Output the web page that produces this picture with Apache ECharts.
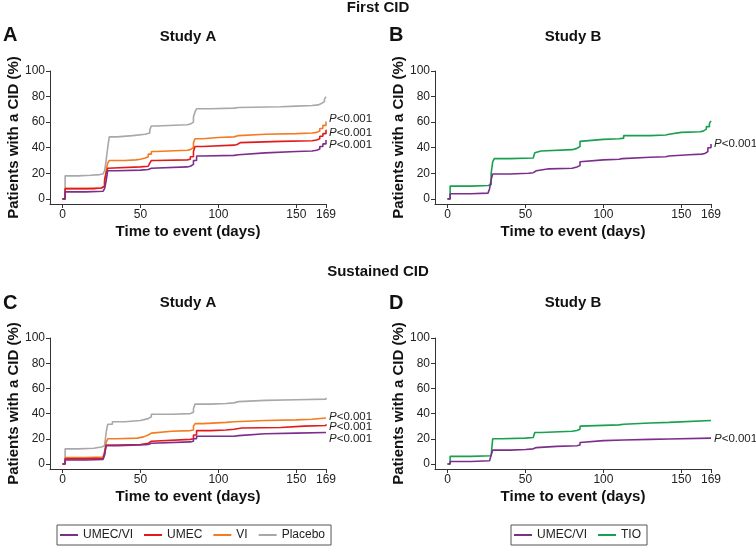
<!DOCTYPE html>
<html><head><meta charset="utf-8">
<script src="https://cdn.jsdelivr.net/npm/echarts@6/dist/echarts.min.js"></script>
<style>html,body{margin:0;padding:0;background:#fff}#c{width:756px;height:549px}</style>
</head><body><div id="c"></div>
<script>
// ---- data (day, % with CID) ----
const xTicks = [0, 50, 100, 150, 169];
const yTicks = [0, 20, 40, 60, 80, 100];
const legendA = ['UMEC/VI', 'UMEC', 'VI', 'Placebo'];
const legendB = ['UMEC/VI', 'TIO'];
const pLabel = 'P<0.001';

// Panel A: First CID, Study A
const A_placebo = [[0,0],[1.7,18],[10,18.5],[18,19],[24,19.5],[26,20],[27,22],[28,30],[29,40],[30,48.5],[35,49.5],[45,50.5],[53,51.5],[56,54],[57,57],[60,58],[80,58.5],[82,60],[84,64],[85,68],[86,70.5],[95,71],[110,71.5],[113,72],[140,72.5],[150,73],[160,73.5],[164,74.5],[166,76],[168,78],[169,80]];
const A_vi = [[0,0],[1.7,8],[15,8.5],[25,9],[26,10],[27,13],[28,22],[29,28],[30,30],[40,30.5],[47,31],[50,32],[53,33],[55,35],[57,37],[60,38],[80,38.5],[82,40],[84,44],[85,47],[90,48],[100,48.5],[110,49.5],[113,50.5],[130,51],[150,51.5],[160,52],[163,53],[165,55],[167,57.5],[169,60.5]];
const A_umec = [[0,0],[1.7,8],[20,8.5],[25,9],[26,10],[27,15],[28,20],[29,24],[30,25],[50,25.5],[55,26],[56,28],[57,30],[60,30.5],[80,31],[82,33],[84,37],[85,41],[90,42],[110,42.5],[112,44],[114,45],[140,45.5],[160,46],[163,47],[165,49],[167,51],[169,54]];
const A_umecvi = [[0,0],[1.7,5.5],[15,6],[26,6.5],[27,8],[28,14],[29,22],[35,22.5],[50,23],[55,24],[57,25],[80,25.5],[82,27],[84,30],[86,33.5],[90,34],[110,34.5],[113,36],[130,37],[150,37.5],[160,38],[163,39],[165,41],[167,43],[169,46]];

// Panel B: First CID, Study B
const B_tio = [[0,0],[1.7,10],[15,10.5],[26,11],[28,20],[29,29],[30,31.5],[40,32],[55,32.5],[56,36],[57,37.5],[60,38.5],[80,39.5],[83,41],[85,45],[86,46.5],[100,47],[110,47.5],[113,49.5],[130,50],[140,50.5],[142,52],[150,52.5],[162,53],[164,54.5],[166,56.5],[168,59],[169,61]];
const B_umecvi = [[0,0],[1.7,4],[15,4.5],[26,5.5],[27,8],[28,15],[29,19.5],[40,20],[52,20.5],[55,22],[57,23.5],[65,24],[80,25],[83,26],[85,29],[86,30.5],[100,31],[110,31.5],[112,32.5],[130,33],[140,33.5],[142,34.5],[155,35],[163,35.5],[165,37],[167,40],[169,43]];

// Panel C: Sustained CID, Study A
const C_placebo = [[0,0],[1.7,12],[10,12.5],[20,13.5],[25,14.5],[27,16],[28,25],[29,31.5],[32,33.5],[40,34.5],[50,36],[55,37.5],[57,39.5],[70,40],[82,41],[84,44],[85,47.5],[95,48],[105,48.5],[110,49.5],[113,50.5],[130,51],[150,51.5],[169,52.5]];
const C_vi = [[0,0],[1.7,5],[15,5.5],[26,6],[27,10],[28,17],[29,20],[35,20.5],[48,21.5],[52,23],[55,24.5],[57,26],[70,26.5],[82,27],[84,30],[85,32],[90,33],[105,33.5],[110,34.5],[130,35],[150,35.5],[160,36.5],[169,37]];
const C_umec = [[0,0],[1.7,4],[15,4.5],[26,5],[27,8],[28,15],[35,15.5],[50,16.5],[55,18],[57,19.5],[82,20],[84,23],[86,26.5],[95,27],[105,27.5],[110,28.5],[115,29],[140,30],[155,30.5],[169,31.5]];
const C_umecvi = [[0,0],[1.7,3.2],[15,3.5],[26,4],[27,7],[28,14.5],[35,15],[50,15.5],[55,16.5],[57,17.5],[82,18],[84,20],[86,22],[110,22.5],[113,24],[130,24.5],[150,25],[169,25.5]];

// Panel D: Sustained CID, Study B
const D_tio = [[0,0],[1.7,6],[15,6.5],[28,7],[29,20],[35,20.5],[50,21],[55,22],[56,25],[60,26],[80,26.5],[83,27.5],[85,30],[86,31],[110,31.5],[113,32.5],[130,33],[142,34.5],[169,34.5]];
const D_umecvi = [[0,0],[1.7,2],[15,2.5],[27,3.5],[28,7],[29,11],[40,11.5],[50,12],[55,13],[57,14],[70,14.5],[83,15],[85,17],[86,18.5],[100,19],[113,19.5],[130,19.8],[142,20.5],[169,20.5]];

// ---- styling ----
const FONT = '"Liberation Sans", Arial, Helvetica, sans-serif';
const COL = { 'UMEC/VI': '#7D2E8C', 'UMEC': '#E31A1C', 'VI': '#F47B20', 'Placebo': '#A8A8A8', 'TIO': '#17A04D' };
const grids = [
  { left: 50, top: 71, width: 276, height: 133 },
  { left: 435, top: 71, width: 276, height: 133 },
  { left: 50, top: 338, width: 276, height: 131 },
  { left: 435, top: 338, width: 276, height: 131 }
];
const axisLineStyle = { color: '#333', width: 1 };
const xAxes = grids.map((g, i) => ({
  gridIndex: i, type: 'value', min: -8, max: 169,
  axisLine: { show: true, onZero: false, lineStyle: axisLineStyle },
  axisTick: { show: true, customValues: xTicks, length: 4, lineStyle: axisLineStyle },
  axisLabel: { customValues: xTicks, fontSize: 12, color: '#222', margin: 5, fontFamily: FONT },
  splitLine: { show: false },
  name: 'Time to event (days)', nameLocation: 'middle', nameGap: 20,
  nameTextStyle: { fontSize: 15, fontWeight: 'bold', color: '#111', fontFamily: FONT }
}));
const yAxes = grids.map((g, i) => ({
  gridIndex: i, type: 'value', min: -4, max: 100,
  axisLine: { show: true, onZero: false, lineStyle: axisLineStyle },
  axisTick: { show: true, customValues: yTicks, length: 4, lineStyle: axisLineStyle },
  axisLabel: { customValues: yTicks, fontSize: 12, color: '#222', margin: 5, fontFamily: FONT },
  splitLine: { show: false },
  name: 'Patients with a CID (%)', nameLocation: 'middle', nameGap: 25, nameRotate: 90,
  nameTextStyle: { fontSize: 15, fontWeight: 'bold', color: '#111', fontFamily: FONT }
}));

function line(name, data, gi, dy) {
  const s = {
    name, type: 'line', data, xAxisIndex: gi, yAxisIndex: gi, step: 'end',
    symbol: 'none', showSymbol: false, animation: false,
    itemStyle: { color: COL[name] },
    lineStyle: { color: COL[name], width: 1.6 }
  };
  if (dy !== undefined) {
    s.endLabel = {
      show: true, distance: 3, offset: [0, dy],
      formatter: '{i|P}{n|<0.001}',
      rich: {
        i: { fontStyle: 'italic', fontSize: 11.5, color: '#222', fontFamily: FONT },
        n: { fontSize: 11.5, color: '#222', fontFamily: FONT }
      }
    };
  }
  return s;
}

const series = [
  line('Placebo', A_placebo, 0), line('VI', A_vi, 0, -2.5), line('UMEC', A_umec, 0, 3), line('UMEC/VI', A_umecvi, 0, 5),
  line('TIO', B_tio, 1), line('UMEC/VI', B_umecvi, 1, 0),
  line('Placebo', C_placebo, 2), line('VI', C_vi, 2, -1), line('UMEC', C_umec, 2, 3), line('UMEC/VI', C_umecvi, 2, 6.5),
  line('TIO', D_tio, 3), line('UMEC/VI', D_umecvi, 3, 1)
];

function txt(text, x, y, size, align) {
  return { type: 'text', x, y, silent: true,
    style: { text, fill: '#111', font: 'bold ' + size + 'px ' + FONT, textAlign: align || 'center', textVerticalAlign: 'middle' } };
}

const legendBase = {
  orient: 'horizontal', icon: 'rect', itemWidth: 18, itemHeight: 2, itemGap: 11,
  borderColor: '#555', borderWidth: 1, padding: [4, 6, 4, 3], selectedMode: false,
  textStyle: { fontSize: 12, color: '#222', fontFamily: FONT }
};

const chart = echarts.init(document.getElementById('c'), null, { renderer: 'canvas' });
chart.setOption({
  backgroundColor: '#fff',
  animation: false,
  grid: grids.map(g => Object.assign({ outerBoundsMode: 'none', containLabel: false }, g)),
  xAxis: xAxes, yAxis: yAxes,
  legend: [
    Object.assign({ data: legendA, left: 57, top: 525 }, legendBase),
    Object.assign({ data: legendB, left: 511, top: 525 }, legendBase)
  ],
  series,
  graphic: [
    txt('First CID', 378, 8, 15),
    txt('A', 3, 35, 20, 'left'), txt('Study A', 188, 37, 15),
    txt('B', 389, 35, 20, 'left'), txt('Study B', 573, 37, 15),
    txt('Sustained CID', 378, 272, 15),
    txt('C', 3, 303, 20, 'left'), txt('Study A', 188, 303, 15),
    txt('D', 389, 303, 20, 'left'), txt('Study B', 573, 303, 15)
  ]
});
</script></body></html>
